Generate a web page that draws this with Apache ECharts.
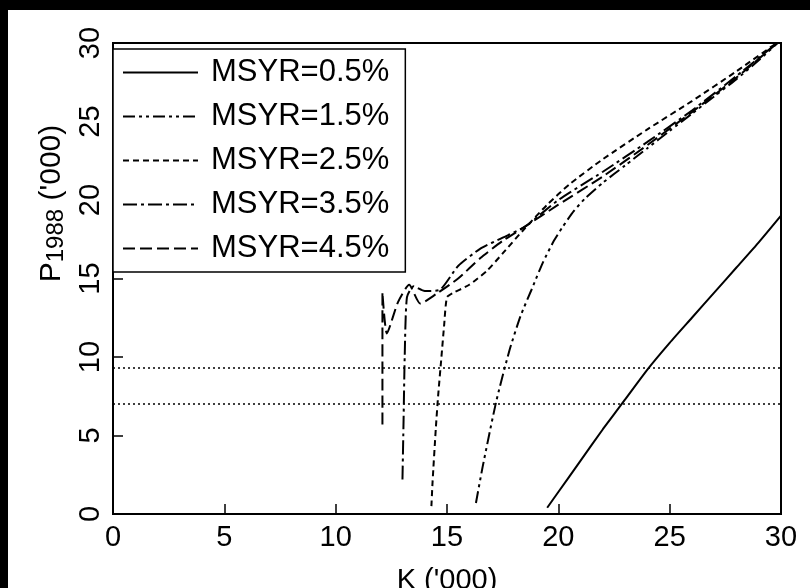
<!DOCTYPE html>
<html>
<head>
<meta charset="utf-8">
<script src="https://cdn.jsdelivr.net/npm/echarts@6/dist/echarts.min.js"></script>
<style>
  html, body { margin: 0; padding: 0; background: #fff; }
  #wrap { position: relative; width: 810px; height: 588px; overflow: hidden; background: #fff; }
  #chart { position: absolute; left: 0; top: 0; width: 810px; height: 588px; }
  .band-top { position: absolute; left: 0; top: 0; width: 810px; height: 10px; background: #000; }
  .band-left { position: absolute; left: 0; top: 0; width: 8px; height: 588px; background: #000; }
</style>
</head>
<body>
<div id="wrap">
  <div id="chart"></div>
  <div class="band-top"></div>
  <div class="band-left"></div>
</div>
<script>
// Axis ticks (thousands)
const kTicks = [0, 5, 10, 15, 20, 25, 30];
const pTicks = [0, 5, 10, 15, 20, 25, 30];

// Legend names
const seriesNames = ['MSYR=0.5%', 'MSYR=1.5%', 'MSYR=2.5%', 'MSYR=3.5%', 'MSYR=4.5%'];

// P1988 ('000) as a function of K ('000), pairs [K, P]
const msyr05 = [[19.5, 0.4], [20, 1.4], [21, 3.4], [22, 5.4], [23, 7.3], [24, 9.2], [25, 10.9],
  [26, 12.5], [27, 14.1], [28, 15.7], [29, 17.3], [30, 19.0]];
const msyr15 = [[16.3, 0.7], [16.6, 3.0], [17.2, 7.1], [17.8, 10.4], [18.3, 12.6], [18.8, 14.3],
  [19.3, 16.0], [19.8, 17.4], [20.2, 18.3], [20.7, 19.3], [21.2, 20.1], [22, 21.1], [23, 22.2],
  [24, 23.3], [25, 24.4], [26, 25.5], [27, 26.6], [28, 27.7], [29, 28.9], [30, 30.2]];
const msyr25 = [[14.3, 0.5], [14.35, 2.0], [14.5, 5.5], [14.6, 7.5], [14.75, 10.0], [14.87, 12.0],
  [15.0, 13.8], [15.3, 14.1], [16.0, 14.6], [16.8, 15.5], [17.5, 16.6], [18.5, 18.2], [19.5, 19.7],
  [20.5, 21.0], [22, 22.6], [24, 24.5], [26, 26.3], [28, 28.2], [30, 30.2]];
const msyr35 = [[13.0, 2.2], [13.05, 6.0], [13.1, 10.0], [13.2, 13.8], [13.5, 14.5], [14.0, 14.2],
  [14.7, 14.3], [15.5, 15.8], [16.5, 16.9], [17.5, 17.6], [18.5, 18.3], [20, 20.0], [22, 21.8],
  [24, 23.7], [26, 25.7], [28, 27.9], [30, 30.2]];
const msyr45 = [[12.1, 5.7], [12.1, 14.1], [12.3, 11.5], [12.8, 13.5], [13.3, 14.6], [13.8, 13.4],
  [14.5, 14.0], [15.5, 15.0], [16.5, 16.3], [17.5, 17.4], [18.5, 18.3], [20, 19.7], [22, 21.5],
  [24, 23.5], [26, 25.6], [28, 27.8], [30, 30.2]];

// Reference levels drawn as dotted horizontal lines
const refLevels = [9.3, 7.0];

const seriesData = [msyr05, msyr15, msyr25, msyr35, msyr45];
const dashPatterns = ['solid', [12, 4, 3, 4, 3, 4], [6, 4], [14, 4, 3, 4], [12, 5]];

const font = '"Liberation Sans", Arial, Helvetica, sans-serif';

const chart = echarts.init(document.getElementById('chart'), null, { renderer: 'canvas' });

const lineSeries = seriesNames.map((name, i) => ({
  name: name,
  type: 'line',
  data: seriesData[i],
  symbol: 'none',
  showSymbol: false,
  smooth: 0.2,
  lineStyle: { color: '#000', width: 2, type: dashPatterns[i] },
  itemStyle: { color: '#000' },
  z: 3
}));

const refSeries = refLevels.map((v, i) => ({
  name: 'ref' + i,
  type: 'line',
  data: [[kTicks[0], v], [kTicks[kTicks.length - 1], v]],
  symbol: 'none',
  lineStyle: { color: '#000', width: 1.5, type: [2, 3] },
  silent: true,
  z: 2
}));

chart.setOption({
  animation: false,
  backgroundColor: '#fff',
  textStyle: { fontFamily: font },
  grid: {
    left: 113, right: 29, top: 43, bottom: 74,
    outerBoundsMode: 'none',
    containLabel: false,
    show: true, borderColor: '#000', borderWidth: 2, backgroundColor: 'transparent'
  },
  legend: {
    data: seriesNames,
    orient: 'vertical',
    left: 113, top: 49,
    padding: [8, 16, 8, 9],
    itemWidth: 75, itemHeight: 14,
    itemGap: 13,
    backgroundColor: '#fff',
    borderColor: '#000', borderWidth: 1.5,
    // line samples only, no marker on them
    itemStyle: { color: 'transparent', borderColor: 'transparent', borderWidth: 0, opacity: 0 },
    textStyle: { fontFamily: font, fontSize: 31, color: '#000', lineHeight: 31, padding: [0, 0, 0, 8] },
    selectedMode: false,
    z: 10
  },
  xAxis: {
    type: 'value',
    min: 0, max: 30, interval: 5,
    name: "K ('000)",
    nameLocation: 'middle',
    nameGap: 52,
    nameTextStyle: { fontFamily: font, fontSize: 29, color: '#000', verticalAlign: 'top' },
    axisLine: { show: true, lineStyle: { color: '#000', width: 2 } },
    axisTick: { show: true, inside: true, length: 10, lineStyle: { color: '#000', width: 1.5 } },
    axisLabel: { fontFamily: font, fontSize: 29, color: '#000', margin: 9 },
    splitLine: { show: false }
  },
  yAxis: {
    type: 'value',
    min: 0, max: 30, interval: 5,
    name: "{p|P}{s|1988}{p| ('000)}",
    nameLocation: 'middle',
    nameRotate: 90,
    nameGap: 38,
    nameTextStyle: {
      color: '#000',
      padding: [0, 0, 0, 150],
      rich: {
        p: { fontFamily: font, fontSize: 30, color: '#000', lineHeight: 32, verticalAlign: 'middle' },
        s: { fontFamily: font, fontSize: 24, color: '#000', lineHeight: 24, padding: [14, 0, 0, 0], verticalAlign: 'bottom' }
      }
    },
    axisLine: { show: true, lineStyle: { color: '#000', width: 2 } },
    axisTick: { show: true, inside: true, length: 10, lineStyle: { color: '#000', width: 1.5 } },
    axisLabel: { fontFamily: font, fontSize: 29, color: '#000', rotate: 90, margin: 8 },
    splitLine: { show: false }
  },
  series: lineSeries.concat(refSeries)
});
</script>
</body>
</html>
